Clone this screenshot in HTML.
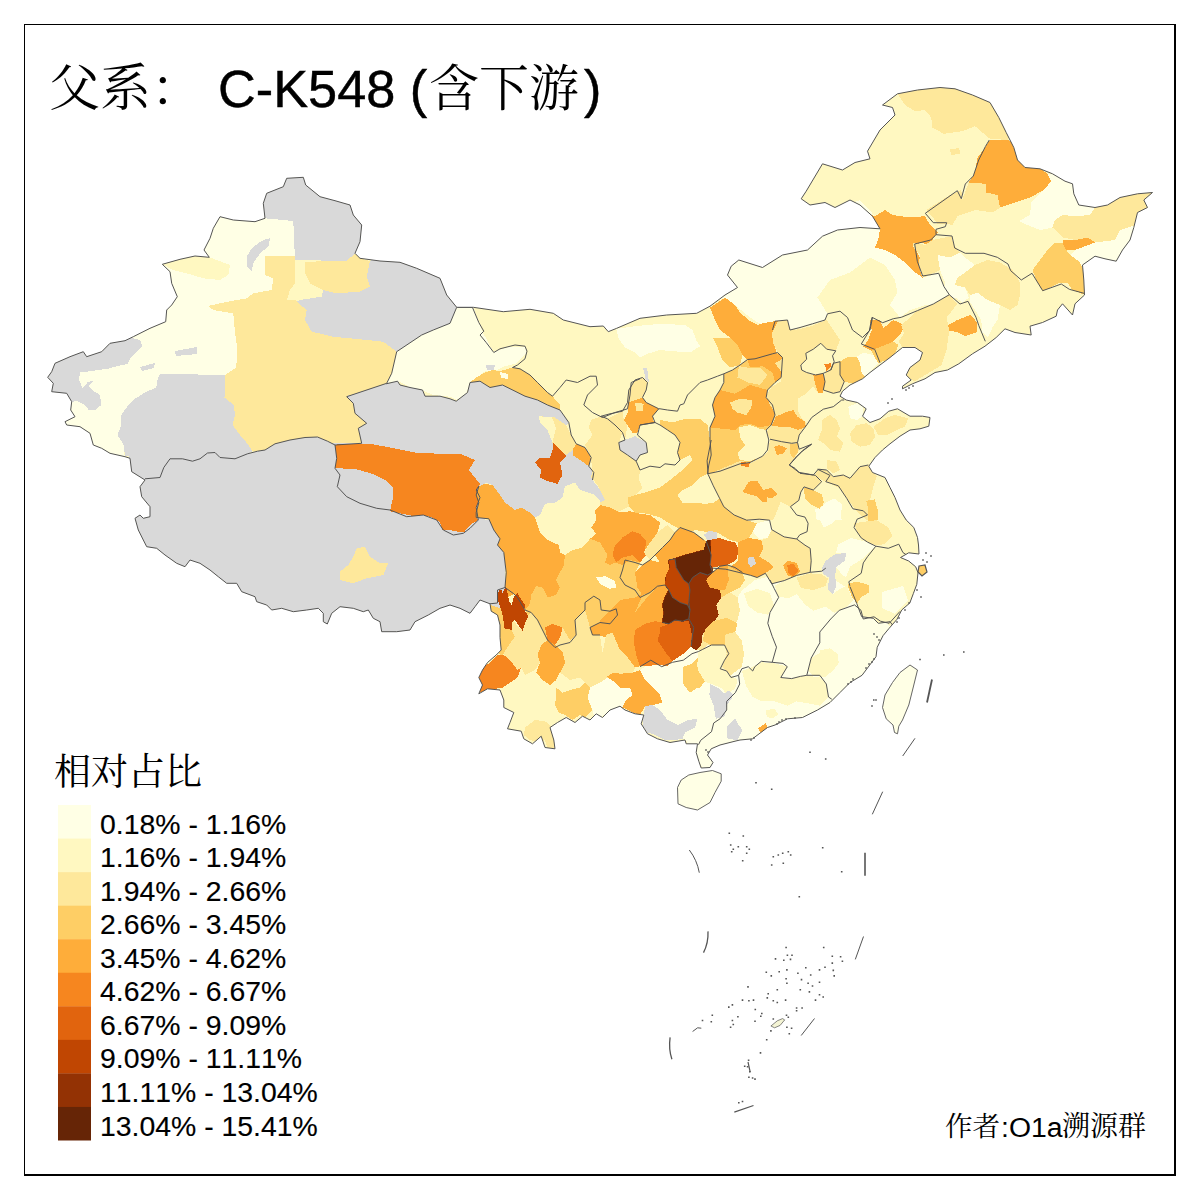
<!DOCTYPE html>
<html><head><meta charset="utf-8"><title>C-K548</title>
<style>
html,body{margin:0;padding:0;background:#fff;}
svg{display:block;}
.s{font-family:"Liberation Sans",sans-serif;fill:#000;font-kerning:none;}
.c{font-family:"Liberation Serif","Noto Serif CJK SC",serif;fill:#000;}
.t{stroke:#000;stroke-width:0.45px;}
.l{stroke:#000;stroke-width:0.15px;}
</style></head>
<body>
<svg width="1200" height="1200" viewBox="0 0 1200 1200">
<rect width="1200" height="1200" fill="#fff"/>
<defs><clipPath id="cn"><path d="M286.7 178.3 303.3 177.3 305.7 185 320 196.7 335 200.7 350 205 353.3 215 361.7 225 360 241.7 355 253.3 360 258.3 380 261 400 262.3 416.7 268.3 440 278.3 446.7 295 456.7 307.3 473.3 307.3 503.3 311.7 530 309.3 553.3 313.3 563.3 320 590 326.7 603.3 326 608.3 331.7 616.7 328.3 640 318.3 666.7 315 696.7 313.3 710 306.2 725 295 737.5 287.5 727.5 275 731.2 266.2 738.8 260 762.5 267.5 782.5 255 807.5 250 822.5 236.2 837.5 230 860 227.5 880 228.8 872.5 216.2 860 205 850 200 835 207.5 825 202.5 810 205 801.2 198.8 806.2 191.2 822.5 163.8 842.5 170 855 162.5 870 158.8 867.5 151.2 880 130 895 115 892.5 107.5 882.5 105 897.5 93.8 917.5 90 940 87.5 955 88.8 972.5 95 990 102.5 998.8 117.5 1006.2 132.5 1013.8 147.5 1017.5 160 1025 167.5 1040 168.8 1052.5 173.8 1065 181.2 1072.5 183.8 1073.8 193.8 1078.8 205 1095 207.5 1107.5 205 1120 197.5 1137.5 193.8 1152.5 192.5 1143.8 200 1147.5 207.5 1137.5 212.5 1133.8 227.5 1130 240 1122.5 250 1116.2 261.2 1105 258.8 1095 256.2 1082.5 265 1083.8 280 1084.5 295 1075 303.8 1072.5 315 1062.5 303.8 1057.5 310 1056.2 316.2 1042.5 322.5 1030 326.2 1031.2 335 1015 332.5 1005 328.8 996.2 337.5 985 346.2 972.5 353.8 958.8 363.8 947.5 370 935 372.5 925 378.8 912.5 383.8 902.5 388.8 902.5 386.2 911.2 380 906.2 375 910 367.5 920 360 922.5 352.5 915 347.5 902.5 347.5 890 357.5 880 365 870 372.5 862.5 378.8 850 385 842.5 391.2 840 396.2 846.2 400 857.5 402.5 866.2 408.8 862.5 416.2 870 422.5 880 418.8 888.8 411.2 897.5 408.8 910 416.2 922.5 416.2 930 417.5 928.8 426.2 920 428.8 910 430 900 436.2 890 443.8 882.5 450 875 457.5 868.8 466.2 872.5 472.5 885 477.5 890 487.5 895 497.5 900 510 906.2 520 913.8 527.5 917.5 537.5 918.5 545 919 554 908.7 552.8 900.5 557.5 908.7 561 915.7 566.8 918 572.7 916.8 584.3 913.3 593.7 909.8 603 901.7 610 897 619.3 888.8 628.7 883 635.7 877.2 647.3 876 656.7 869 666 862 675.3 850 682.5 840 692.5 830 702.5 817.5 710 802.5 717.5 787.5 718.8 775 725 767.5 727.5 752.5 738.8 740 740 735 741.2 720 745 711.2 748.8 707.5 755 713 762.5 710 767.5 701.2 768 698.8 761.2 696.2 752.5 697.5 743.8 686.2 743.8 685 740 670 742.5 657.5 738.8 647.5 733.8 641.2 723.8 643.8 715 635 713.8 625 710 620 706.2 610 710 602.5 717.5 596.2 713.8 590 720 582.5 716.2 575 722.5 566.2 717.5 557.5 722.5 550 727.5 553.8 740 555 748.8 545 747.5 541.2 736.2 532.5 743.8 523.8 738.8 521.2 731.2 507.5 728.8 510 722.5 513.8 712.5 503.8 707.5 503.8 700 500 690 487.5 688.8 478.8 693.8 482.5 685 478.8 677.5 482.5 670 487.5 662.5 496.2 655 501.2 650 500 637.5 500 625 497.5 615 491.2 611.2 490 603.8 480 600 475 606.7 470 613.3 460 608.3 450 605 440 608.3 428.3 615 415 621.7 410 630 396.7 631.7 381.7 631.7 380 621.7 373.3 618.3 368.3 610 363.3 611.7 353.3 608.3 340 606.7 331.7 613.3 327.3 624 323.3 621.7 323.3 613.3 318.3 608.3 306.7 610 293.3 611.7 281.7 608.3 271.7 610 266.7 605 256.7 601.7 255 596.7 241.7 591.7 236.7 583.3 226.7 583.3 218.3 576.7 210 570 200 563.3 190 560 185 566.7 176.7 563.3 165 555 156.7 548.3 146.7 546.7 143.3 540 138.3 530 135 518.3 140 515 143.3 518.3 150 516.7 150 506.7 141.7 496.7 140 486.7 145 480 131.7 471.7 130 458.3 125 456.7 110 453.3 101.7 448.3 93.3 445 90 433.3 80 426.7 66.7 425 65 421.7 75 416.7 70.7 410 71.7 401.7 66.7 393.3 51.7 391.7 53.3 383.3 47.7 377.3 51.7 371.7 55 363.3 70 356.7 83.3 351.7 86.7 356.7 101.7 351.7 110 343.3 125 340.7 133.3 336.7 150 328.3 165.7 321.7 166.7 310 171.7 305 177.3 296.7 171.7 283.3 170 271.7 162.3 264.3 180 259.3 195 256 209.3 257.3 204 250 210 238.3 213.3 228.3 220 216.7 233.3 220 255 221.7 265 218.3 263.3 203.3 266.7 193.3 283.3 186.7Z"/></clipPath></defs>
<path d="M286.7 178.3 303.3 177.3 305.7 185 320 196.7 335 200.7 350 205 353.3 215 361.7 225 360 241.7 355 253.3 360 258.3 380 261 400 262.3 416.7 268.3 440 278.3 446.7 295 456.7 307.3 473.3 307.3 503.3 311.7 530 309.3 553.3 313.3 563.3 320 590 326.7 603.3 326 608.3 331.7 616.7 328.3 640 318.3 666.7 315 696.7 313.3 710 306.2 725 295 737.5 287.5 727.5 275 731.2 266.2 738.8 260 762.5 267.5 782.5 255 807.5 250 822.5 236.2 837.5 230 860 227.5 880 228.8 872.5 216.2 860 205 850 200 835 207.5 825 202.5 810 205 801.2 198.8 806.2 191.2 822.5 163.8 842.5 170 855 162.5 870 158.8 867.5 151.2 880 130 895 115 892.5 107.5 882.5 105 897.5 93.8 917.5 90 940 87.5 955 88.8 972.5 95 990 102.5 998.8 117.5 1006.2 132.5 1013.8 147.5 1017.5 160 1025 167.5 1040 168.8 1052.5 173.8 1065 181.2 1072.5 183.8 1073.8 193.8 1078.8 205 1095 207.5 1107.5 205 1120 197.5 1137.5 193.8 1152.5 192.5 1143.8 200 1147.5 207.5 1137.5 212.5 1133.8 227.5 1130 240 1122.5 250 1116.2 261.2 1105 258.8 1095 256.2 1082.5 265 1083.8 280 1084.5 295 1075 303.8 1072.5 315 1062.5 303.8 1057.5 310 1056.2 316.2 1042.5 322.5 1030 326.2 1031.2 335 1015 332.5 1005 328.8 996.2 337.5 985 346.2 972.5 353.8 958.8 363.8 947.5 370 935 372.5 925 378.8 912.5 383.8 902.5 388.8 902.5 386.2 911.2 380 906.2 375 910 367.5 920 360 922.5 352.5 915 347.5 902.5 347.5 890 357.5 880 365 870 372.5 862.5 378.8 850 385 842.5 391.2 840 396.2 846.2 400 857.5 402.5 866.2 408.8 862.5 416.2 870 422.5 880 418.8 888.8 411.2 897.5 408.8 910 416.2 922.5 416.2 930 417.5 928.8 426.2 920 428.8 910 430 900 436.2 890 443.8 882.5 450 875 457.5 868.8 466.2 872.5 472.5 885 477.5 890 487.5 895 497.5 900 510 906.2 520 913.8 527.5 917.5 537.5 918.5 545 919 554 908.7 552.8 900.5 557.5 908.7 561 915.7 566.8 918 572.7 916.8 584.3 913.3 593.7 909.8 603 901.7 610 897 619.3 888.8 628.7 883 635.7 877.2 647.3 876 656.7 869 666 862 675.3 850 682.5 840 692.5 830 702.5 817.5 710 802.5 717.5 787.5 718.8 775 725 767.5 727.5 752.5 738.8 740 740 735 741.2 720 745 711.2 748.8 707.5 755 713 762.5 710 767.5 701.2 768 698.8 761.2 696.2 752.5 697.5 743.8 686.2 743.8 685 740 670 742.5 657.5 738.8 647.5 733.8 641.2 723.8 643.8 715 635 713.8 625 710 620 706.2 610 710 602.5 717.5 596.2 713.8 590 720 582.5 716.2 575 722.5 566.2 717.5 557.5 722.5 550 727.5 553.8 740 555 748.8 545 747.5 541.2 736.2 532.5 743.8 523.8 738.8 521.2 731.2 507.5 728.8 510 722.5 513.8 712.5 503.8 707.5 503.8 700 500 690 487.5 688.8 478.8 693.8 482.5 685 478.8 677.5 482.5 670 487.5 662.5 496.2 655 501.2 650 500 637.5 500 625 497.5 615 491.2 611.2 490 603.8 480 600 475 606.7 470 613.3 460 608.3 450 605 440 608.3 428.3 615 415 621.7 410 630 396.7 631.7 381.7 631.7 380 621.7 373.3 618.3 368.3 610 363.3 611.7 353.3 608.3 340 606.7 331.7 613.3 327.3 624 323.3 621.7 323.3 613.3 318.3 608.3 306.7 610 293.3 611.7 281.7 608.3 271.7 610 266.7 605 256.7 601.7 255 596.7 241.7 591.7 236.7 583.3 226.7 583.3 218.3 576.7 210 570 200 563.3 190 560 185 566.7 176.7 563.3 165 555 156.7 548.3 146.7 546.7 143.3 540 138.3 530 135 518.3 140 515 143.3 518.3 150 516.7 150 506.7 141.7 496.7 140 486.7 145 480 131.7 471.7 130 458.3 125 456.7 110 453.3 101.7 448.3 93.3 445 90 433.3 80 426.7 66.7 425 65 421.7 75 416.7 70.7 410 71.7 401.7 66.7 393.3 51.7 391.7 53.3 383.3 47.7 377.3 51.7 371.7 55 363.3 70 356.7 83.3 351.7 86.7 356.7 101.7 351.7 110 343.3 125 340.7 133.3 336.7 150 328.3 165.7 321.7 166.7 310 171.7 305 177.3 296.7 171.7 283.3 170 271.7 162.3 264.3 180 259.3 195 256 209.3 257.3 204 250 210 238.3 213.3 228.3 220 216.7 233.3 220 255 221.7 265 218.3 263.3 203.3 266.7 193.3 283.3 186.7Z" fill="#fff8c1"/>
<g clip-path="url(#cn)" shape-rendering="crispEdges">
<path d="M330 440 485 440 485 545 330 545Z" fill="#d9d9d9"/>
<path d="M265 218.3 293.3 220 295 256 265 256 265 275 273.3 278.3 271.7 290 253.3 293.3 246.7 298.3 233.3 300.7 220 303.3 208.3 306 213.3 310 233.3 313.3 235 332.5 237.5 350 236.2 367.5 225 375 160 373.8 157.5 380 156.2 387.5 145 392.5 135 398.8 127.5 406.2 121.2 415 121.2 425 117.5 435 123.8 445 125 462 40 462 40 200 265 200Z" fill="#ffffe5"/>
<path d="M162.3 264.3 180 259.3 195 256 209.3 257.3 230 265 228.3 275 220 280 203.3 278.3 186.7 273.3 173.3 270Z" fill="#fff8c1"/>
<path d="M255 170 375 170 375 250 355 253.3 346.7 261 295 260 293.3 221 265 218.3 255 200Z" fill="#d9d9d9"/>
<path d="M263.3 240 270 238.3 268.3 246.7 260 253.3 253.3 263.3 251.7 271.7 246.7 266.7 246.7 256.7 251.7 248.3 258.3 243.3Z" fill="#d9d9d9"/>
<path d="M130 337.5 140 340 142.5 346.2 136.2 352.5 130 358.8 127.5 363.8 117.5 366.2 107.5 368.8 90 371.2 80 372.5 78.8 380 82.5 387.5 87.5 382.5 93.8 380 88.8 386.2 93.8 391.2 100 395 101.2 405 95 410 88.8 410 85 405 77.5 401.2 68 402 40 400 40 335 100 330Z" fill="#d9d9d9"/>
<path d="M175 351 197 347 197 354 176 356Z" fill="#d9d9d9"/>
<path d="M140 367 155 363 154 368 142 371Z" fill="#d9d9d9"/>
<path d="M265 256 295 256 295 300 296.7 301.7 306.7 310 305 320 311.7 331.7 333.3 336.7 366.7 340 383.3 341.7 396.7 351.7 391.7 373.3 386.7 383.3 346.7 396.7 353.3 403.3 355 413.3 366.7 423.3 358.3 428.3 361.7 443.3 333.3 443.3 317.5 437 305 437.5 290 440 275 443.8 265 450 252.5 451.2 247.5 443.8 240 435 232.5 425 235 415 233.8 405 224.5 397.5 225 375 236.2 367.5 237.5 350 235 332.5 233.3 313.3 213.3 310 208.3 306 220 303.3 233.3 300.7 246.7 298.3 253.3 293.3 271.7 290 273.3 278.3 265 275Z" fill="#fee89b"/>
<path d="M295 261.7 305 261.7 305 273.3 310 283.3 323.3 290 321.7 296.7 300 300 286.7 300 290 290 295 283.3Z" fill="#fff8c1"/>
<path d="M305 261.7 346.7 261 355 253.3 360 258.3 370 261 366.7 276.7 370 286.7 360 291.7 336.7 293.3 323.3 290 310 283.3 305 273.3Z" fill="#fee89b"/>
<path d="M160 373.8 225 375 224.5 397.5 233.8 405 235 415 232.5 425 240 435 247.5 443.8 252.5 451.2 247.5 453.8 235 458.8 220 457.5 215 452.5 207.5 453 200 458.8 192.5 461.2 182.5 458.8 170 458.8 163.8 467.5 160 477.5 145 478.8 131.2 472.5 128.8 456.2 125 456.2 123.8 445 117.5 435 121.2 425 121.2 415 127.5 406.2 135 398.8 145 392.5 156.2 387.5 157.5 380Z" fill="#d9d9d9"/>
<path d="M296.7 301.7 300 300 321.7 296.7 323.3 290 336.7 293.3 360 291.7 370 286.7 366.7 276.7 370 261 380 255 460 255 456.7 307.3 450 323.3 433.3 330 421.7 335 396.7 351.7 383.3 341.7 366.7 340 333.3 336.7 311.7 331.7 305 320 306.7 310Z" fill="#d9d9d9"/>
<path d="M456.7 307.3 473.3 307.3 483.3 333.3 493.3 351.7 510 346.7 525 346.7 526.7 353.3 516.7 363.3 503.3 366.7 496.7 370 483.3 371.7 476.7 380 470 381.7 466.7 393.3 456.7 400 450 396.7 433.3 395 421.7 390 411.7 388.3 400 381.7 386.7 382.7 391.7 373.3 396.7 351.7 421.7 335 433.3 330 450 323.3Z" fill="#ffffe5"/>
<path d="M131.2 472.5 145 478.8 160 477.5 163.8 467.5 170 458.8 182.5 458.8 192.5 461.2 200 458.8 207.5 453 215 452.5 220 457.5 235 458.8 247.5 453.8 257.5 451.2 265 450 275 443.8 290 440 305 437.5 317.5 437 327.5 441.2 335 445 336.7 458.3 335 468.3 340 475 337.3 486.7 346.7 496.7 360 503.3 376.7 508.3 390 510 406.7 516.7 423.3 515 436.7 520 443.3 530 453.3 535 463.3 533.3 470 528.3 478.3 520 505 520 505 640 300 640 120 560 120 470Z" fill="#d9d9d9"/>
<path d="M356.7 548.3 365 546.7 370 556.7 380 563.3 388.3 563.3 383.3 575 366.7 578.3 353.3 583.3 340 580 340 571.7 348.3 565 353.3 556.7Z" fill="#fee89b"/>
<path d="M346.2 396.2 386.2 383.8 397.5 381.2 400 385 410 387.5 422.5 390 425 396.2 440 396.2 450 398.8 456.2 401.2 467.5 392.5 470 382.5 480 381.2 490 387.5 502.5 385 515 391.2 525 396.2 537.5 400 547.5 405 560 410 568.8 422.5 566.2 425 571.2 435 576.2 443.8 585 447.5 591.2 457.5 588.8 466.2 593.8 472.5 592.5 480 602.5 492.5 606.2 500 601.2 502.5 595 495 580 490 575 482.5 565 486.2 562.5 497.5 555 502.5 545 503.8 540 515 535 517.5 530 512.5 521.2 507.5 515 510 505 502.5 500 495 492.5 485 485 482.5 478.8 486.2 480 483.8 468.8 470 475 460 460 453.8 440 453.8 415 452.5 390 447.5 370 443.8 361.7 443.3 358.3 428.3 366.7 423.3 355 413.3 353.3 403.3Z" fill="#d9d9d9"/>
<path d="M335 468.3 350 468.3 366.7 471.7 383.3 478.3 393.3 485 393.3 496.7 390 510 376.7 508.3 360 503.3 346.7 496.7 337.3 486.7 340 475Z" fill="#d9d9d9"/>
<path d="M335 445 340 443.8 370 443.8 390 447.5 415 452.5 440 453.8 460 453.8 475 460 468.8 470 480 483.8 476.2 490 480 497.5 476.2 507.5 476.2 517.5 478.3 520 470 525 463.8 532.5 455 531.2 450 530 442.5 530 440 522.5 432.5 517.5 423.3 515 415 516.2 402.5 513.8 390 511.2 392.5 500 392.5 487.5 385 480 372.5 473.8 355 468.8 335 468.3 336.7 458.3Z" fill="#f6861f"/>
<path d="M476.2 377.5 485 372.5 492.5 370 500 371.2 512.5 367.5 520 368.8 530 375 537.5 382.5 547.5 392.5 552.5 396.2 560 405 560 410 547.5 405 537.5 400 525 396.2 515 391.2 502.5 385 490 387.5 480 381.2 470 382.5Z" fill="#fece65"/>
<path d="M486 365 495 365 494 370 487 370Z" fill="#d9d9d9"/>
<path d="M500 372 508 374 508 379 501 378Z" fill="#ffffe5"/>
<path d="M538.8 416.2 555 417.5 566.2 425 571.2 435 576.2 443.8 572.5 450 566.2 455 560 450 552.5 442.5 547.5 430 540 422.5Z" fill="#fee89b"/>
<path d="M538.8 416.2 552 417.5 556 428 552.5 442.5 547.5 430 540 422.5Z" fill="#fff8c1"/>
<path d="M552.5 442.5 560 450 566.2 456.2 560 462.5 562.5 475 557.5 483.8 547.5 481.2 540 477.5 541.2 470 535 462.5 540 457.5 550 457.5 552.5 450Z" fill="#e1640e"/>
<path d="M576.2 443.8 585 447.5 591.2 457.5 588.8 466.2 580 460 572.5 455 572.5 450Z" fill="#fead3a"/>
<path d="M616.2 328.8 635 326.2 660 323.8 685 325 692.5 330 696.2 340 700 346.2 690 352.5 672.5 351.2 660 350 647.5 353.8 640 357.5 635 352.5 625 347.5 618.8 338.8Z" fill="#ffffe5"/>
<path d="M591.2 420 601.2 416.2 607.5 418.8 615 425 622.5 432.5 618.8 442.5 620 450 627.5 455 636.2 461.2 640 470 638.8 480 642.5 487.5 635 495 627.5 497.5 630 506.2 620 511.2 610 513.8 601.2 510 600 502.5 605 500 597.5 485 591.2 477.5 592.5 467.5 590 455 585 445 592.5 435 588.8 427.5Z" fill="#fee89b"/>
<path d="M660 420 672.5 422.5 685 418.8 700 418.8 707.5 425 710 440 711.2 455 708.8 465 707.5 473.8 700 477.5 692.5 485 682.5 490 677.5 495 682.5 502.5 692.5 502.5 705 503.8 720 502.5 722.5 510 735 517.5 732.5 525 720 530 710 532.5 695 530 690 532.5 677.5 527.5 670 523.8 660 517.5 647.5 513.8 635 512.5 628.8 506.2 627.5 497.5 635 495 645 492.5 660 487.5 670 480 682.5 470 692.5 460 690 455 680 460 677.5 452.5 680 442.5 675 435 667.5 430 660 425Z" fill="#fece65"/>
<path d="M635 380 642.5 377.5 647.5 382.5 646.2 390 642.5 397.5 627.5 402.5 628.8 390Z" fill="#fee89b"/>
<path d="M627.5 402.5 642.5 397.5 646.2 402.5 658.8 408.8 652.5 416.2 653.8 422.5 640 425 637.5 432.5 632.5 432.5 627.5 425 623.8 420 627.5 412.5Z" fill="#fead3a"/>
<path d="M635 402.5 643.8 403.8 642.5 411.2 636.2 411.2Z" fill="#fee89b"/>
<path d="M607.5 418.8 622.5 411.2 623.8 420 627.5 425 625 440 622.5 432.5 615 425Z" fill="#fee89b"/>
<path d="M625 440 635 436.2 646.2 442.5 647.5 452.5 640 455 636.2 461.2 627.5 455 620 450 618.8 442.5Z" fill="#d9d9d9"/>
<path d="M643.2 368 647 367.5 649 382.5 645.5 378.8Z" fill="#d9d9d9"/>
<path d="M712.5 337.5 730 337.5 737.5 345 742.5 355 740 365 730 367.5 722.5 360 717.5 347.5Z" fill="#fece65"/>
<path d="M723.8 373.8 732.5 370 740 365 747.5 359.5 755 358.8 772.5 353.8 777.5 352.5 782.5 357.5 781.2 377.5 775 382.5 767.5 390 766.2 397.5 772.5 405 775 415 771.2 425 766.2 430 768.8 440 767.5 450 762.5 456.2 750 462.5 740 463.8 730 467.5 720 471.2 707.5 473.8 708.8 465 711.2 455 710 440 710 427.5 715 416.2 712.5 405 715 397.5 720 390 723.8 382.5Z" fill="#fece65"/>
<path d="M738.8 366.2 747.5 367.5 760 367.5 767.5 375 760 385 747.5 382.5 737.5 377.5Z" fill="#fee89b"/>
<path d="M710 307.5 725 297.5 732.5 301.2 740 312.5 750 321.2 757.5 325 770 321.2 780 320 787.5 318.8 780 326.2 772.5 333.8 776.2 352.5 782.5 357.5 781.2 377.5 775 382.5 772.5 372.5 762.5 366.2 750 367.5 747.5 360 742.5 355 737.5 345 730 337.5 720 330 715 320Z" fill="#fead3a"/>
<path d="M720 390 735 393.8 750 385 767.5 390 766.2 397.5 772.5 405 775 415 771.2 425 760 427.5 750 423.8 740 425 735 430 722.5 428.8 710 427.5 715 416.2 712.5 405 715 397.5Z" fill="#fead3a"/>
<path d="M730 402.5 740 398.8 752.5 400 751.2 407.5 746.2 415 737.5 412.5 732.5 408.8Z" fill="#fee89b"/>
<path d="M738.8 427.5 750 425 760 428.8 766.2 430 768.8 440 767.5 450 762.5 456.2 750 461.2 740 460 737.5 452.5 745 445 740 437.5Z" fill="#fff8c1"/>
<path d="M740 462.5 750 462 748.8 467.5 741.2 467Z" fill="#f6861f"/>
<path d="M647.5 665 653.8 660 660 665 667.5 666.2 672.5 661.2 677.5 657.5 685 652.5 691.2 646.2 696.2 650 702.5 650 707.5 645 717.5 642.5 725 640 732.5 630 737.5 620 740 610 737.5 597.5 742.5 590 755 580 775 575 795 570 815 575 835 580 850 590 865 600 885 620 900 640 900 705 810 780 710 780 685 738.8 675 740 665 740 655 735 647.5 732.5 642.5 725 643.8 715 645 706.2 652.5 705 662.5 702.5 660 695 652.5 687.5 645 680 640 670Z" fill="#ffffe5"/>
<path d="M478.8 486.2 485 483.8 492.5 485 500 495 505 502.5 515 510 521.2 507.5 530 512.5 535 517.5 537.5 525 540 532.5 547.5 540 558.8 545 560 552.5 565 555 563.8 565 560 572.5 556.2 580 560 587.5 556.2 595 547.5 597.5 542.5 587.5 536.2 586.2 531.2 595 530 603.8 525 610 517.5 597.5 513.8 593.8 507.5 597.5 505 587.5 506.2 572.5 503.8 552.5 497.5 545 500 538.8 493.8 530 488.8 518.8 476.2 517.5 476.2 512.5 478.8 502.5 476.2 495Z" fill="#fead3a"/>
<path d="M565 555 572.5 550 582.5 547.5 590 538.8 600 542.5 607.5 555 605 562.5 610 565 615 562.5 622.5 565 630 560 640 562.5 635 572.5 637.5 587.5 642.5 595 635 612.5 625 605 620 610 625 617.5 620 620 610 623.8 600 622.5 590 627.5 585 610 575 620 576.2 635 570 640 562.5 627.5 552.5 623.8 545 627.5 547.5 640 542.5 630 537.5 620 531.2 612.5 527.5 616.2 525 610 530 603.8 531.2 595 536.2 586.2 542.5 587.5 547.5 597.5 556.2 595 560 587.5 556.2 580 560 572.5 563.8 565Z" fill="#fece65"/>
<path d="M600 620 620 600 635 597.5 660 585 667.5 590 663.8 623.8 645 624.2 635 630 640 666.2 627.5 658 615 640 600 635.5Z" fill="#fead3a"/>
<path d="M635 630 655 621.2 668.8 623.8 688.8 620 693.8 627.5 691.2 646.2 672.5 661.2 660 665 640 666.2Z" fill="#f6861f"/>
<path d="M596.2 577.5 605 576.2 615 581.2 616.2 587.5 610 588.8 600 583.8Z" fill="#ffffe5"/>
<path d="M595 510 600 505 610 507.5 620 512.5 630 511.2 640 513.8 650 515 660 522.5 657.5 532.5 650 542.5 645 550 646.2 555 640 562.5 630 560 622.5 565 615 562.5 610 565 605 562.5 607.5 555 600 542.5 590 538.8 596.2 533.8 591.2 527.5 596.2 520Z" fill="#fead3a"/>
<path d="M615 545 622.5 537.5 632.5 531.2 640 533.8 646.2 541.2 645 550 646.2 555 640 562.5 632.5 555 622.5 557.5 616.2 562.5 612.5 555Z" fill="#f6861f"/>
<path d="M657.5 532.5 667.5 525 675 532.5 670 540 662.5 547.5 655 555 650 560 643.8 552.5 650 542.5Z" fill="#fee89b"/>
<path d="M675 532.5 680 527.5 693.8 532.5 703.8 540 706.2 541.2 703.8 550 695 552.5 685 555 675 558.8 668.8 560 660 562.5 655 555 662.5 547.5 670 540Z" fill="#fead3a"/>
<path d="M635 572.5 642.5 565 650 560 660 562.5 668.8 560 670 567.5 666.2 575 665 585 657.5 586.2 650 592.5 642.5 595 637.5 587.5Z" fill="#fead3a"/>
<path d="M625 605 635 612.5 645 600 657.5 586.2 665 585 668.8 590 665 597.5 662.5 605 663.8 612.5 662.5 622.5 655 621.2 645 623.8 635 616.2 625 617.5 620 610Z" fill="#fead3a"/>
<path d="M642.5 595 650 592.5 657.5 586.2 645 600 635 612.5Z" fill="#fece65"/>
<path d="M590 627.5 600 622.5 610 623.8 620 620 635 616.2 645 623.8 635 630 633.8 642.5 636.2 655 640 666.2 635 667.5 627.5 657.5 620 650 615 640 610 632.5 600 635 592.5 635Z" fill="#fead3a"/>
<path d="M606.2 635 612.5 632.5 620 650 627.5 657.5 635 667.5 632.5 672.5 620 673.8 613.8 672.5 607.5 677.5 605 667.5 607.5 655 602.5 652.5Z" fill="#fee89b"/>
<path d="M605 677.5 613.8 672.5 620 673.8 632.5 672.5 640 670 645 680 652.5 687.5 660 695 662.5 702.5 652.5 705 645 706.2 640 715 632.5 712.5 622.5 707.5 626.2 700 632.5 695 630 687.5 620 687.5 615 682.5Z" fill="#fead3a"/>
<path d="M635 630 645 623.8 655 621.2 660 627.5 660 632.5 657.5 640 662.5 647.5 667.5 655 672.5 661.2 667.5 666.2 660 665 653.8 660 647.5 665 640 666.2 636.2 655 633.8 642.5Z" fill="#f6861f"/>
<path d="M660 627.5 668.8 623.8 675 620 682.5 621.2 688.8 620 693.8 627.5 692.5 635 691.2 646.2 685 652.5 677.5 657.5 672.5 661.2 667.5 655 662.5 647.5 657.5 640 660 632.5Z" fill="#e1640e"/>
<path d="M667.5 560 675 558 685 554.5 703.8 549.5 706.2 540.8 710.8 539.5 712.5 567.5 720 590 721.8 597.5 716.8 605 719.2 615 714.2 622.5 708 627.5 703 635 701.8 645 696.2 650.5 690.8 646.8 692 635 688.8 620.5 682.5 621.8 675 620.5 668.8 624.2 662 623 663.2 612.5 662 605 664.5 597.5 668.2 590 664.5 585 665.8 575 669.5 567.5Z" fill="#933204"/>
<path d="M692.5 577.5 706.2 580 712.5 572.5 720 566.2 727.5 565 728.8 580 725 590 720 590 710 587.5Z" fill="#fead3a"/>
<path d="M727.5 565 735 567.5 742.5 572.5 745 580 740 587.5 730 592.5 721.2 597.5 720 590 725 590 728.8 580Z" fill="#fece65"/>
<path d="M716.2 605 721.2 597.5 730 592.5 737.5 597.5 740 610 737.5 620 732.5 630 725 640 717.5 642.5 707.5 645 702.5 650 696.2 650 701.2 645 702.5 635 707.5 627.5 713.8 622.5 718.8 615Z" fill="#fee89b"/>
<path d="M711.2 540 717.5 537.5 725 540 735 542.5 738.8 550 736.2 560 727.5 565 720 566.2 712.5 567.5 710 565 711.2 555Z" fill="#e1640e"/>
<path d="M668.8 560 675 558.8 676.2 567.5 680 573.8 683.8 580 688.8 583.8 690 590 688.8 602.5 687.5 605 680 602.5 672.5 597.5 668.8 590 665 585 666.2 575 670 567.5Z" fill="#c04602"/>
<path d="M692.5 577.5 700 573.8 706.2 580 710 587.5 720 590 721.2 597.5 716.2 605 718.8 615 713.8 622.5 707.5 627.5 702.5 635 701.2 645 696.2 650 691.2 646.2 692.5 635 693.8 627.5 688.8 620 690 610 688.8 602.5 690 590 688.8 583.8Z" fill="#933204"/>
<path d="M675 558.8 685 555 695 552.5 703.8 550 706.2 541.2 710 540 711.2 555 710 565 712.5 572.5 707.5 575 700 572.5 692.5 577.5 688.8 583.8 683.8 580 680 573.8 676.2 567.5Z" fill="#662506"/>
<path d="M668.8 590 672.5 597.5 680 602.5 687.5 605 690 610 688.8 618.8 682.5 621.2 675 620 668.8 623.8 662.5 622.5 663.8 612.5 662.5 605 665 597.5Z" fill="#662506"/>
<path d="M695 660 703.8 652.5 710 660 707.5 670 706.2 680 700 687.5 690 690 683.8 680 687.5 670Z" fill="#fece65"/>
<path d="M645 706.2 652.5 705 660 710 667.5 720 677.5 725 687.5 720 697.5 718.8 695 727.5 685 732.5 682.5 738.8 675 740 665 740 655 735 647.5 732.5 642.5 725 643.8 715Z" fill="#d9d9d9"/>
<path d="M710 683.8 717.5 687.5 725 695 730 690 732.5 697.5 725 705 722.5 715 717.5 717.5 715 705 710 697.5Z" fill="#d9d9d9"/>
<path d="M727.5 727.5 735 720 742.5 730 737.5 737.5 728.8 737.5Z" fill="#d9d9d9"/>
<path d="M575 620 585 610 590 627.5 592.5 635 600 635 602.5 652.5 607.5 655 605 667.5 607.5 677.5 600 682.5 590 687.5 585 682.5 580 677.5 570 680 560 672.5 565 662.5 562.5 652.5 555 645 560 637.5 562.5 627.5 570 640 576.2 635Z" fill="#fee89b"/>
<path d="M500 630 510 630 512.5 620 521.2 630 527.5 616.2 531.2 612.5 537.5 620 542.5 630 547.5 640 541.2 645 537.5 655 540 662.5 535 670 525 675 521.2 667.5 517.5 670 510 660 503.8 655 500 645Z" fill="#fee89b"/>
<path d="M490 605 497.5 607.5 500.8 608.3 503.3 618.3 504.2 628.3 511.7 630 515 636.7 510 643.3 505.8 650 501.7 656.7 499.2 653.3 500 643.3 498.3 631.7 496.7 620 491.7 613.3Z" fill="#fece65"/>
<path d="M497.5 595.8 499.2 590 501.7 590 502.5 593.3 504.2 590 505.8 585.8 507.5 593.3 509.2 601.7 511.7 605 514.2 595.8 517.5 593.3 521.7 600 525 605 524.2 610 528.3 615.8 525 623.3 522.5 630.8 518.3 625 515 620 511.7 623.3 511.7 630 504.2 628.3 503.3 618.3 500.8 608.3 498.3 601.7Z" fill="#c04602"/>
<path d="M478.8 677.5 482.5 667.5 490 662.5 497.5 655 503.8 655 510 660 517.5 670 521.2 667.5 517.5 677.5 510 682.5 502.5 687.5 495 688.8 485 690 480 692.5Z" fill="#f6861f"/>
<path d="M541.2 645 547.5 640 555 645 562.5 652.5 565 662.5 560 672.5 556.2 680 550 685 542.5 680 536.2 672.5 540 662.5 537.5 655Z" fill="#fead3a"/>
<path d="M545 627.5 552.5 623.8 562.5 627.5 560 637.5 555 645 547.5 640Z" fill="#f6861f"/>
<path d="M556.2 687.5 562.5 692.5 570 690 580 687.5 585 682.5 590 687.5 587.5 697.5 592.5 710 585 717.5 580 715 572.5 720 565 715 558.8 712.5 555 705 556.2 695Z" fill="#fece65"/>
<path d="M590 687.5 600 682.5 607.5 677.5 615 682.5 620 687.5 630 687.5 632.5 695 626.2 700 622.5 707.5 615 710 607.5 712.5 600 717.5 595 720 592.5 710 587.5 697.5Z" fill="#ffffe5"/>
<path d="M525 727.5 535 720 545 721.2 552.5 727.5 555 740 555 747.5 547.5 748.8 545 740 537.5 742.5 530 740 523.8 735Z" fill="#fee89b"/>
<path d="M778.3 320 790 320 795 330 810 326.7 826.7 320 833.3 330 840 340 835.8 350.8 826.7 349.2 820.8 343.3 813.3 349.2 805.8 353.3 806.7 359.2 800.8 365 801.7 370 806.7 372.5 813.3 375 815 383.3 818.3 393.3 813.3 386.7 806.7 393.3 798.3 398.3 797.5 410 801.7 418.3 806.7 423.3 799.2 435 797.5 442.5 791.7 443.3 781.7 441.7 770 439.2 766.7 431.7 770.8 426.7 775 413.3 769.2 403.3 766.7 395 771.7 386.7 780.8 381.7 782.5 373.3 775 363.3 783.3 358.3 778.3 353.3 773.3 343.3 771.7 333.3Z" fill="#fee89b"/>
<path d="M775.8 416.7 785 412.5 793.3 410 797.5 416.7 805 421.7 805.8 426.7 798.3 430 788.3 426.7 780 426.7 771.7 425.8Z" fill="#fead3a"/>
<path d="M824.2 364.2 830.8 363.3 830.8 370 826.7 371.7 825.8 367.5Z" fill="#f6861f"/>
<path d="M813.3 375 823.3 373.3 825 381.7 822.5 393.3 818.3 393.3 815 383.3Z" fill="#fead3a"/>
<path d="M825 373.3 833.3 363.3 840 361.7 840 375 844.2 381.7 840 391.7 833.3 393.3 823.3 390 825 381.7Z" fill="#fee89b"/>
<path d="M840 361.7 846.7 357.5 856.7 356.7 860 363.3 861.7 373.3 866.7 377.5 855 384.2 844.2 381.7 840 375Z" fill="#fece65"/>
<path d="M856.7 356.7 863.3 352.5 873.3 355 878.3 363.3 873.3 368.3 866.7 377.5 861.7 373.3 860 363.3Z" fill="#ffffe5"/>
<path d="M863.3 346.7 868.3 340 871.7 330 870 320 880 320 883.3 328.3 893.3 320 905 325 900 335 893.3 341.7 885 345 876.7 348.3 871.7 350.8Z" fill="#fead3a"/>
<path d="M871.7 350.8 876.7 348.3 885 345 893.3 341.7 898.3 345 895 353.3 890 358.3 878.3 363.3 873.3 355Z" fill="#fece65"/>
<path d="M821.7 420 830 415 836.7 420 840 428.3 836.7 436.7 843.3 443.3 840 451.7 830 450 823.3 443.3 818.3 440 821.7 430Z" fill="#fee89b"/>
<path d="M850 433.3 856.7 425 866.7 423.3 873.3 428.3 875 436.7 870 445 860 446.7 851.7 441.7Z" fill="#fee89b"/>
<path d="M873.3 426.7 885 418.3 895 415 908.3 418.3 905 426.7 896.7 430 886.7 435 878.3 435Z" fill="#fee89b"/>
<path d="M848.3 406.7 856.7 403.3 863.3 406.7 862.5 416.7 856.7 420 850 418.3Z" fill="#ffffe5"/>
<path d="M826.7 460 836.7 461.7 840 470 833.3 473.3 826.7 468.3Z" fill="#fee89b"/>
<path d="M770 439.2 781.7 441.7 791.7 443.3 797.5 442.5 799.2 449.2 795 458.3 789.2 465 795 468.3 800 473.3 790 480 783.3 486.7 780 503.3 773.3 520 740 520 740 466.7 750 463.3 760 458.3 768.3 451.7Z" fill="#fee89b"/>
<path d="M774.2 446.7 779.2 445 786.7 448.3 783.3 453.3 776.7 455Z" fill="#fead3a"/>
<path d="M790 444.2 797.5 443.3 798.3 451.7 793.3 458.3 790 453.3Z" fill="#fece65"/>
<path d="M746.7 483.3 753.3 480 761.7 485 763.3 495 765 501.7 758.3 500 750 495 745 490Z" fill="#fead3a"/>
<path d="M818.3 469.2 826.7 470 833.3 476.7 843.3 475 850 478.3 860 466.7 868.3 465 871.7 471.7 876.7 476.7 873.3 486.7 870 500 876.7 511.7 878.3 520 866.7 520 856.7 511.7 848.3 500 840 488.3 830 483.3 821.7 480 815 475Z" fill="#fee89b"/>
<path d="M868.3 500 875 501.7 878.3 511.7 878.3 520 870 520 867.5 510Z" fill="#fece65"/>
<path d="M804.2 488.3 810 486.7 815 493.3 821.7 496.7 823.3 505 818.3 508.3 811.7 505 806.7 498.3Z" fill="#fece65"/>
<path d="M815 509.2 826.7 506.7 840 511.7 841.7 520 816.7 520Z" fill="#ffffe5"/>
<path d="M715 302 725 297.5 735 305 750 317.5 760 323.8 775 321.2 787.5 320 790 330 800 327.5 812.5 323.8 825 320 827.5 313.8 817.5 297.5 830 280 850 272.5 870 257.5 885 265 895 280 897.5 292.5 890 305 900 317.5 910 310 925 305 937.5 306.2 947.5 297.5 949.3 294.7 944 285.3 938.7 273.3 923.8 277.5 915 272.5 905 262.5 895 255 885 250 875 247.5 878.8 237.5 880 228.8 875 216.2 860 200 720 250Z" fill="#ffffe5"/>
<path d="M875 216.2 885 210 892.5 215 910 217.5 925 216.2 930 225 937.5 232.5 932.5 240 930 247.5 922.5 242.5 912.5 245 917.5 252.5 921.2 260 920 270 922.5 277.5 915 272.5 905 262.5 895 255 885 250 875 247.5 878.8 237.5 880 228.8 870 214Z" fill="#fead3a"/>
<path d="M912.5 242.5 925 245 932.5 240 951.2 236.2 953.8 245 960 252.5 950 257.5 940 270 923.8 277.5 918.8 265 920 255 915 250Z" fill="#fee89b"/>
<path d="M905 105 897.5 93.8 900 85 1000 85 1010 132.5 1008 140 990 138.8 975 126.2 962.5 131.2 943.8 133.8 932.5 127.5 931.2 117.5 925 110 915 111.2Z" fill="#fee89b"/>
<path d="M990 140 1007.5 140 1020 145 1030 160 1030 167.5 1040 168.8 1047.5 173.8 1051.2 181.2 1043.8 190 1030 197.5 1015 202.5 1000 207.5 997.5 195 986.2 192.5 986.2 183.8 968.8 182.5 975 172.5 977.5 157.5 985 147.5Z" fill="#fead3a"/>
<path d="M926.2 210 950 195 961.2 190 962.5 198.8 968.8 182.5 986.2 183.8 986.2 192.5 997.5 195 1000 207.5 992.5 212.5 975 210 957.5 216.2 952.5 225 947.5 223.8 937.5 223.8 933.8 218.8Z" fill="#fee89b"/>
<path d="M1047.5 173.8 1065 175 1080 180 1080 205 1095 207.5 1090 215 1075 216.2 1062.5 215 1055 220 1052.5 227.5 1040 230 1027.5 225 1018.8 221.2 1030 215 1031.2 202.5 1043.8 190 1051.2 181.2Z" fill="#ffffe5"/>
<path d="M1095 207.5 1107.5 200 1120 190 1160 185 1160 210 1137.5 212.5 1135 225 1120 230 1115 240 1095 242.5 1087.5 238.8 1075 240 1062.5 237.5 1052.5 227.5 1055 220 1062.5 215 1075 216.2 1090 215Z" fill="#fee89b"/>
<path d="M1070 255 1075 250 1095 242.5 1115 240 1120 230 1135 225 1140 235 1130 255 1120 268 1095 260 1082.5 268 1078.8 261.2Z" fill="#ffffe5"/>
<path d="M1062.5 240 1075 240 1087.5 237.5 1095 242.5 1075 250 1066.2 250 1062.5 245Z" fill="#fead3a"/>
<path d="M1032.5 270 1040 260 1047.5 250 1055 242.5 1062.5 243 1066.2 250 1070 255 1078.8 261.2 1083.8 270 1090 297 1072.5 290 1067.5 282.5 1060 282.5 1050 287.5 1042.5 291.2 1036.2 280Z" fill="#fece65"/>
<path d="M965 272.5 975 265 987.5 260 1000 262.5 1012.5 270 1020 282.5 1020 295 1017.5 305 1010 310 1000 305 987.5 300 977.5 292.5 970 295 965 287.5 955 285 957.5 277.5Z" fill="#fee89b"/>
<path d="M937.5 255 950 257.5 960 252.5 965 257.5 975 265 965 272.5 957.5 277.5 955 285 965 287.5 968.8 297.5 962.5 302.5 955 297.5 948.8 300 943.8 295 945 282.5 940 270Z" fill="#ffffe5"/>
<path d="M970 295 977.5 292.5 987.5 300 1000 305 997.5 320 992.5 327.5 987.5 337.5 982.5 332.5 981.2 320 975 310 970 302Z" fill="#ffffe5"/>
<path d="M901.3 325.3 917.3 310.7 933.3 304 949.3 294.7 957.3 304 946.7 317.3 949.3 330.7 946.7 349.3 941.3 365.3 928 373.3 914.7 381.3 906.7 376 912 360 920 352 914.7 346.7 904 349.3 898.7 341.3 904 333.3Z" fill="#fee89b"/>
<path d="M948 325.3 957.3 320 970.7 314.7 977.3 322.7 977.3 332 965.3 336 957.3 332 949.3 330.7Z" fill="#fead3a"/>
<path d="M708.1 474.4 740.4 460.8 750.8 462.9 767.5 458.8 789.4 465 798.8 472.3 815.4 475.4 821.7 481.7 813.3 490 804 486.9 800.8 492.1 798.8 500.4 790.4 506.7 777.9 500.4 769.6 502.5 759.2 510.8 746.7 520.2 734.2 515 723.8 506.7 719.6 498.3 713.3 485.8Z" fill="#fee89b"/>
<path d="M748.8 481.7 757.1 480.6 763.3 490 771.7 487.9 777.9 494.2 771.7 498.3 766.5 497.3 766.5 502.5 762.3 501.5 757.1 496.2 748.8 494.2 742.5 492.1Z" fill="#fead3a"/>
<path d="M711.2 440 738.3 440 736.2 452.5 740.4 460.8 708.1 474.4 707.1 460.8Z" fill="#fece65"/>
<path d="M740.4 461.9 749.8 462.9 748.8 467.1 741.5 466Z" fill="#f6861f"/>
<path d="M694.6 502.5 705 508.8 719.6 498.3 723.8 506.7 734.2 515 746.7 520.2 757.1 523.3 752.9 531.7 748.8 537.9 738.3 542.1 730 540 717.5 532.7 709.2 530.6 700.8 529.6 694.6 519.2Z" fill="#fece65"/>
<path d="M738.3 542.1 748.8 537.9 761.2 540 763.3 548.3 759.2 556.7 769.6 562.9 773.8 567.1 765.4 573.3 757.1 577.5 750.8 575.4 742.5 573.3 730 567.1 738.3 560.8 738.3 550.4Z" fill="#fead3a"/>
<path d="M752.9 531.7 757.1 523.3 769.6 520.2 771.7 529.6 767.5 537.9 759.2 539Z" fill="#ffffe5"/>
<path d="M704 534.8 709.2 530.6 717.5 532.7 716.5 539 707.1 540Z" fill="#d9d9d9"/>
<path d="M748.3 557.7 754 556.7 756 564 750.8 567.1 747.7 562.9Z" fill="#d9d9d9"/>
<path d="M767.5 537.9 771.7 529.6 784.2 536.9 796.7 539 805 545.2 810.2 548.3 811.2 560.8 810.2 572.3 796.7 575.4 784.2 580.6 771.7 583.8 765.4 573.3 773.8 567.1 769.6 562.9 759.2 556.7 763.3 548.3 761.2 540Z" fill="#fee89b"/>
<path d="M783.1 565 788.3 560.8 796.7 562.9 799.8 571.2 794.6 577.5 787.3 575.4Z" fill="#fead3a"/>
<path d="M787.3 565 793.5 564 798.8 571.2 793.5 576.5 788.3 573.3Z" fill="#f6861f"/>
<path d="M804 489 813.3 490 821.7 494.2 823.8 502.5 819.6 508.8 811.2 504.6 805 498.3Z" fill="#fece65"/>
<path d="M817.5 510.8 825.8 502.5 834.2 498.3 842.5 504.6 840.4 515 832.1 523.3 823.8 527.5 819.6 519.2Z" fill="#ffffe5"/>
<path d="M838.3 544.2 850.8 537.9 867.5 542.1 875.8 546.2 871.7 556.7 863.3 562.9 861.2 573.3 850.8 579.6 842.5 575.4 836.2 567.1 844.6 560.8 846.7 552.5 836.2 552.5Z" fill="#ffffe5"/>
<path d="M825.8 560.8 834.2 554.6 846.7 552.5 844.6 560.8 836.2 567.1 835.2 575.4 836.2 585.8 833.1 594.2 827.9 590 829 577.5 823.8 575.4 821.7 569.2Z" fill="#d9d9d9"/>
<path d="M866.5 501.5 874.8 499.4 877.9 510.8 876.9 520.2 867.5 521.2 868.5 510.8Z" fill="#fece65"/>
<path d="M854 523.3 867.5 521.2 876.9 520.2 888.3 527.5 892.5 535.8 884.2 544.2 875.8 545.2 867.5 542.1 861.2 537.9 857.1 531.7Z" fill="#fee89b"/>
<path d="M847.7 583.8 857.1 581.7 868.5 584.8 869.6 592.1 861.2 597.3 857.1 603.5 852.9 598.3 848.8 590Z" fill="#fece65"/>
<path d="M774.8 585.8 784.2 580.6 796.7 575.4 810.2 572.3 821.7 573.3 829 577.5 827.9 590 833.1 594.2 838.3 590 846.7 585.8 852.9 600.4 846.7 606.7 834.2 612.9 825.8 606.7 813.3 610.8 805 604.6 796.7 594.2 788.3 598.3 777.9 596.2Z" fill="#fff8c1"/>
<path d="M819.6 650.4 830 648.3 838.3 654.6 836.2 667.1 825.8 671.2 819.6 662.9Z" fill="#fff8c1"/>
<path d="M741.8 671 752.7 666.7 761.3 662.3 774.3 663.4 787.3 666.7 780.8 677.5 791.7 678.6 804.7 675.3 819.8 677.5 826.3 684 828.5 697 819.8 705.7 809 703.5 796 701.3 787.3 705.7 774.3 701.3 761.3 701.3 752.7 697 746.2 686.2Z" fill="#fff8c1"/>
<path d="M811.2 658 822 651.5 835 654.8 839.3 662.3 832.8 671 824.2 677.5 813.3 675.3 807.9 671Z" fill="#fff8c1"/>
<path d="M698.5 651.5 711.5 645 724.5 645 726.7 653.7 722.3 666.7 731 675.3 737.5 679.7 735.3 688.3 726.7 694.8 722.3 688.3 711.5 684 705 681.8 696.3 675.3Z" fill="#fff8c1"/>
<path d="M725.6 634.2 735.3 632 741.8 640.7 744 653.7 741.8 666.7 731 675.3 722.3 666.7 726.7 653.7 724.5 645Z" fill="#fee89b"/>
<path d="M705 629.8 713.7 621.2 726.7 617.9 737.5 623.3 735.3 632 725.6 634.2 724.5 645 711.5 645 702.8 640.7Z" fill="#fece65"/>
<path d="M683.3 666.7 696.3 662.3 698.5 671 705 681.8 696.3 688.3 689.8 692.7 683.3 684Z" fill="#fece65"/>
<path d="M710.4 684 715.8 692.7 722.3 694.8 728.8 690.5 733.2 694.8 726.7 705.7 724.5 716.5 715.8 718.7 713.7 705.7 709.3 694.8Z" fill="#d9d9d9"/>
<path d="M726.7 727.3 735.3 718.7 741.8 731.7 737.5 740.3 726.7 738.2Z" fill="#d9d9d9"/>
<path d="M758.1 728.4 765.7 723 767.8 727.3 761.3 733.8Z" fill="#fead3a"/>
<path d="M765.7 710 774.3 708.9 778.7 714.3 772.2 718.7 766.8 716.5Z" fill="#fff8c1"/>
<path d="M744 593 757 588.7 770 593 774.3 606 767.8 614.7 757 612.5 748.3 606Z" fill="#fff8c1"/>
<path d="M850 566.7 845 580 850 586.7 856.7 603.3 861.7 616.7 873.3 618.3 878.3 623.3 890 621.7 895 628.3 925 600 930 560 900 545 876.7 545 863.3 558.3Z" fill="#fff8c1"/>
<path d="M882 592 903 586 908 600 895 614 882 608Z" fill="#ffffe5"/>
<path d="M847.7 583.8 857.1 581.7 868.5 584.8 869.6 592.1 861.2 597.3 857.1 603.5 852.9 598.3 848.8 590Z" fill="#fece65"/>
<path d="M950 149.5 958.8 148 960.5 153.8 951.2 155Z" fill="#fee89b"/>
<path d="M796.7 577.5 810.2 573.3 821.7 574.4 827.9 578.5 825.8 585.8 813.3 590 800.8 587.9Z" fill="#fee89b"/>
</g>
<g clip-path="url(#cn)"><path d="M145 478.8 160 477.5 163.8 467.5 170 458.8 182.5 458.8 192.5 461.2 200 458.8 207.5 453 215 452.5 220 457.5 235 458.8 247.5 453.8 257.5 451.2 265 450 275 443.8 290 440 305 437.5 317.5 437 327.5 441.2 335 445M335 445 336.7 458.3 335 468.3 340 475 337.3 486.7 346.7 496.7 360 503.3 376.7 508.3 390 510 406.7 516.7 423.3 515 436.7 520 443.3 530 453.3 535 463.3 533.3 470 528.3 478.3 520M335 445 361.7 443.3 358.3 428.3 366.7 423.3 355 413.3 353.3 403.3 346.7 396.7 386.7 383.3 391.7 373.3 396.7 351.7 421.7 335 433.3 330 450 323.3 456.7 307.3M457.5 307.5 472.5 307.5 478.8 322.5 483.8 331.2 480 335 486.2 342.5 493.8 352.5 500 348.8 515 345 525 346.2 527 351.2 525 358.8 517.5 365 512.5 367.5 520 368.8 530 375 537.5 382.5 547.5 392.5 552.5 396.2 560 387.5 566.2 380 577.5 382.5 590 376.2 596.2 376.2 597.5 385 587.5 395 583.8 405 592.5 412.5 602.5 417.5 615 412.5 627.5 408.8 630 395 631.2 382.5 640 378.8M386.2 383.8 397.5 381.2 400 385 410 387.5 422.5 390 425 396.2 440 396.2 450 398.8 456.2 401.2 467.5 392.5 470 382.5 480 381.2 490 387.5 502.5 385 515 391.2 525 396.2 537.5 400 547.5 405 560 410 568.8 422.5 571.2 435 576.2 443.8 585 447.5 591.2 457.5 588.8 466.2 593.8 472.5 592.5 480M478.3 520 476.2 507.5 480 497.5 476.2 490 478.8 486.2M723.8 373.8 732.5 370 740 365 747.5 359.5 755 358.8 772.5 353.8 777.5 352.5 782.5 357.5 781.2 377.5 775 382.5 767.5 390 766.2 397.5 772.5 405 775 415 771.2 425 766.2 430 768.8 440 767.5 450 762.5 456.2 750 462.5 740 463.8 730 467.5 720 471.2 707.5 473.8 708.8 465 711.2 455 710 440 710 427.5 715 416.2 712.5 405 715 397.5 720 390 723.8 382.5 723.8 373.8M635 380 642.5 377.5 647.5 382.5 646.2 390 642.5 397.5 646.2 402.5 658.8 408.8 652.5 416.2 655 422.5 640 425 637.5 435 646.2 442.5 647.5 452.5 640 455 636.2 461.2 627.5 455 620 450 618.8 442.5 625 440 622.5 432.5 615 425 607.5 418.8 601.2 416.2 610 413.8 622.5 411.2 627.5 402.5 628.8 390 635 380M723.8 373.8 717.5 376.2 707.5 380 700 382.5 692.5 390 687.5 395 683.8 403.8 680 405 677.5 411.2 667.5 410 660 408.8 658.8 408.8M844.2 400 841.7 400 833.3 406.7 823.3 409.2 811.7 417.5 806.7 425 799.2 435 797.5 442.5 799.2 449.2 811.7 444.2 801.7 451.7 795 458.3 789.2 465 795 468.3 800 473.3 813.3 475 818.3 469.2 826.7 470 833.3 476.7 843.3 475 850 478.3 860 466.7 868.3 465M770 439.2 781.7 441.7 791.7 443.3 797.5 442.5M800.8 365 806.7 359.2 805.8 353.3 813.3 349.2 820.8 343.3 826.7 349.2 835.8 350.8 832.5 355.8 834.2 361.7 830.8 370 823.3 373.3 815.8 375 806.7 372.5 801.7 370 800.8 365M830.8 370 833.3 363.3 840 361.7 840 375 844.2 381.7 840 391.7 833.3 393.3 823.3 390 825 381.7 823.3 373.3M711.2 440 707.1 460.8 708.1 474.4 713.3 485.8 719.6 498.3 723.8 506.7 734.2 515 746.7 520.2 759.2 519.2 769.6 520.2 771.7 529.6 784.2 536.9 796.7 539 799.8 534.8 807.1 531.7 808.1 523.3 805 517.1 796.7 515 790.4 506.7 798.8 500.4 800.8 492.1 804 486.9 813.3 490 821.7 481.7 815.4 475.4 798.8 472.3 789.4 465 796.7 456.7 802.9 450.4 811.2 444.2M796.7 539 805 545.2 810.2 548.3 811.2 560.8 810.2 572.3 821.7 571.2 825.8 568.1M712.3 568.1 725.8 569.2 742.5 573.3 750.8 575.4 757.1 577.5 765.4 573.3 771.7 583.8 784.2 580.6 796.7 575.4 810.2 572.3M770 580 774.3 588.7 778.7 597.3 770 612.5 767.8 623.3 772.2 636.3 776.5 647.2 772.2 662.3M772.2 662.3 783 663.4 787.3 666.7 780.8 677.5 791.7 678.6 800.3 676.4 806.8 675.3M806.8 675.3 811.2 658 819.8 642.8 819.8 632 830.7 619 839.3 610.3 854.5 604.9M806.8 675.3 819.8 675.3 826.3 684 828.5 697 831.8 699.2M854.5 604.9 861 610.3 863.2 619 874 616.8 880.5 621.2 889.2 623.3 900 611.4M772.2 662.3 761.3 661.3 754.8 666.7 752.7 671 748.3 666.7 741.8 668.8 738.6 675.3 739.7 684 735.3 692.7 726.7 701.3 726.7 710 720.2 718.7 713.7 723 711.5 731.7 700.7 740.3 698.5 744.7M738.6 675.3 731 677.5 726.7 671 720.2 668.8 724.5 660.2 728.8 653.7 724.5 645 711.5 645 702.8 649.3 698.5 651.5M698.5 651.5 692 653.7 683.3 660.2 672.5 662.3 661.7 666.7 650.8 660.2 640 666.7M989.3 140 985.3 146.7 978.7 160 973.3 176 965.3 184 961.3 198.7 957.3 190.7 925.3 213.3 933.3 222.7 946.7 222.7 945.3 226.7 936 229.3 936 234.7M936 234.7 952 236 954.7 248 965.3 253.3 984 253.3 997.3 257.3 1008 264 1010.7 270.7 1021.3 280 1032 273.3 1042.7 290.7 1061.3 284 1069.3 289.3 1084 293.3M936 234.7 930.7 240 914.7 244 917.3 261.3 922.7 276 938.7 273.3 944 286.7 949.3 294.7M949.3 294.7 960 304 968 301.3 976 317.3 978.7 325.3 985.3 341.3M949.3 294.7 933.3 304 917.3 310.7 901.3 317.3 893.3 318.7 882.7 322.7 872 317.3 869.3 330.7 861.3 344 874.7 349.3 880 362.7M703.8 540 693.8 532.5 680 527.5 675 532.5 670 540 662.5 547.5 655 555 650 560 642.5 565 635 562.5 625 560 622.5 570 620 577.5 625 585 635 590 640 597.5 650 592.5 657.5 586.2 665 585 668.8 590M505 587.5 513.8 593.8 517.5 597.5 525 610 531.2 612.5 537.5 620 542.5 630 547.5 640 555 647.5 560 645 570 642.5 576.2 635 575 620 585 610 585 602.5 593.8 596.2 600 600 601.2 610 610 611.2 616.2 608.8 617.5 615 610 623.8 600 622.5 590 627.5 592.5 635 600 635M817.5 469.2 830 475.4 825.8 481.7 838.3 485.8 846.7 498.3 852.9 508.8 863.3 510.8 867.5 515 857.1 519.2 854 527.5 861.2 537.9 867.5 542.1 875.8 546.2M875.8 546.2 867.5 556.7 863.3 562.9 861.2 573.3 848.8 581.7 849.8 585.8M875.8 546.2 888.3 548.3 898.8 544.2 902.9 552.5 909.2 556.7M850 586.7 856.7 603.3 861.7 616.7 873.3 618.3 878.3 623.3 890 621.7 895 628.3M478.8 486.2 476.2 495 478.8 502.5 476.2 512.5 476.2 517.5 488.8 518.8 493.8 530 500 538.8 497.5 545 503.8 552.5 506.2 572.5 505 587.5 497.5 590 497.5 603 490 603.8M640 425 655 422.5 660 425 667.5 430 675 435 680 442.5 677.5 452.5 680 460 675 465 665 463.8 660 467.5 650 466.2 640 470 636.2 461.2M772.5 330 775 321.2 787.5 320 790 330 800 327.5 812.5 323.8 825 320 827.5 313.8 840 311.2 847.5 317.5 852.5 330 862.5 337.5 870 330 872.5 317.5M668.8 560 675 558.8 676.2 567.5 680 573.8 683.8 580 688.8 583.8 690 590 688.8 602.5 690 610 688.8 618.8 693.8 627.5 692.5 635 691.2 646.2M706.2 541.2 711.2 555 710 565 712.5 572.5 707.5 575 700 572.5 692.5 577.5 688.8 583.8M668.8 590 672.5 597.5 680 602.5 687.5 605 690 610M688.8 618.8 682.5 621.2 675 620 668.8 623.8 662.5 622.5M712.5 572.5 720 566.2 727.5 565 735 567.5 742.5 572.5" fill="none" stroke="#555" stroke-width="1" stroke-linejoin="round"/></g>
<path d="M286.7 178.3 303.3 177.3 305.7 185 320 196.7 335 200.7 350 205 353.3 215 361.7 225 360 241.7 355 253.3 360 258.3 380 261 400 262.3 416.7 268.3 440 278.3 446.7 295 456.7 307.3 473.3 307.3 503.3 311.7 530 309.3 553.3 313.3 563.3 320 590 326.7 603.3 326 608.3 331.7 616.7 328.3 640 318.3 666.7 315 696.7 313.3 710 306.2 725 295 737.5 287.5 727.5 275 731.2 266.2 738.8 260 762.5 267.5 782.5 255 807.5 250 822.5 236.2 837.5 230 860 227.5 880 228.8 872.5 216.2 860 205 850 200 835 207.5 825 202.5 810 205 801.2 198.8 806.2 191.2 822.5 163.8 842.5 170 855 162.5 870 158.8 867.5 151.2 880 130 895 115 892.5 107.5 882.5 105 897.5 93.8 917.5 90 940 87.5 955 88.8 972.5 95 990 102.5 998.8 117.5 1006.2 132.5 1013.8 147.5 1017.5 160 1025 167.5 1040 168.8 1052.5 173.8 1065 181.2 1072.5 183.8 1073.8 193.8 1078.8 205 1095 207.5 1107.5 205 1120 197.5 1137.5 193.8 1152.5 192.5 1143.8 200 1147.5 207.5 1137.5 212.5 1133.8 227.5 1130 240 1122.5 250 1116.2 261.2 1105 258.8 1095 256.2 1082.5 265 1083.8 280 1084.5 295 1075 303.8 1072.5 315 1062.5 303.8 1057.5 310 1056.2 316.2 1042.5 322.5 1030 326.2 1031.2 335 1015 332.5 1005 328.8 996.2 337.5 985 346.2 972.5 353.8 958.8 363.8 947.5 370 935 372.5 925 378.8 912.5 383.8 902.5 388.8 902.5 386.2 911.2 380 906.2 375 910 367.5 920 360 922.5 352.5 915 347.5 902.5 347.5 890 357.5 880 365 870 372.5 862.5 378.8 850 385 842.5 391.2 840 396.2 846.2 400 857.5 402.5 866.2 408.8 862.5 416.2 870 422.5 880 418.8 888.8 411.2 897.5 408.8 910 416.2 922.5 416.2 930 417.5 928.8 426.2 920 428.8 910 430 900 436.2 890 443.8 882.5 450 875 457.5 868.8 466.2 872.5 472.5 885 477.5 890 487.5 895 497.5 900 510 906.2 520 913.8 527.5 917.5 537.5 918.5 545 919 554 908.7 552.8 900.5 557.5 908.7 561 915.7 566.8 918 572.7 916.8 584.3 913.3 593.7 909.8 603 901.7 610 897 619.3 888.8 628.7 883 635.7 877.2 647.3 876 656.7 869 666 862 675.3 850 682.5 840 692.5 830 702.5 817.5 710 802.5 717.5 787.5 718.8 775 725 767.5 727.5 752.5 738.8 740 740 735 741.2 720 745 711.2 748.8 707.5 755 713 762.5 710 767.5 701.2 768 698.8 761.2 696.2 752.5 697.5 743.8 686.2 743.8 685 740 670 742.5 657.5 738.8 647.5 733.8 641.2 723.8 643.8 715 635 713.8 625 710 620 706.2 610 710 602.5 717.5 596.2 713.8 590 720 582.5 716.2 575 722.5 566.2 717.5 557.5 722.5 550 727.5 553.8 740 555 748.8 545 747.5 541.2 736.2 532.5 743.8 523.8 738.8 521.2 731.2 507.5 728.8 510 722.5 513.8 712.5 503.8 707.5 503.8 700 500 690 487.5 688.8 478.8 693.8 482.5 685 478.8 677.5 482.5 670 487.5 662.5 496.2 655 501.2 650 500 637.5 500 625 497.5 615 491.2 611.2 490 603.8 480 600 475 606.7 470 613.3 460 608.3 450 605 440 608.3 428.3 615 415 621.7 410 630 396.7 631.7 381.7 631.7 380 621.7 373.3 618.3 368.3 610 363.3 611.7 353.3 608.3 340 606.7 331.7 613.3 327.3 624 323.3 621.7 323.3 613.3 318.3 608.3 306.7 610 293.3 611.7 281.7 608.3 271.7 610 266.7 605 256.7 601.7 255 596.7 241.7 591.7 236.7 583.3 226.7 583.3 218.3 576.7 210 570 200 563.3 190 560 185 566.7 176.7 563.3 165 555 156.7 548.3 146.7 546.7 143.3 540 138.3 530 135 518.3 140 515 143.3 518.3 150 516.7 150 506.7 141.7 496.7 140 486.7 145 480 131.7 471.7 130 458.3 125 456.7 110 453.3 101.7 448.3 93.3 445 90 433.3 80 426.7 66.7 425 65 421.7 75 416.7 70.7 410 71.7 401.7 66.7 393.3 51.7 391.7 53.3 383.3 47.7 377.3 51.7 371.7 55 363.3 70 356.7 83.3 351.7 86.7 356.7 101.7 351.7 110 343.3 125 340.7 133.3 336.7 150 328.3 165.7 321.7 166.7 310 171.7 305 177.3 296.7 171.7 283.3 170 271.7 162.3 264.3 180 259.3 195 256 209.3 257.3 204 250 210 238.3 213.3 228.3 220 216.7 233.3 220 255 221.7 265 218.3 263.3 203.3 266.7 193.3 283.3 186.7Z" fill="none" stroke="#555" stroke-width="1" stroke-linejoin="round"/>
<path d="M688.8 775 700 772.5 712.5 770.5 721.2 773.8 721.2 781.2 715 792.5 710 802.5 697.5 810 686.2 807.5 678 803.8 677.5 787.5 681.2 780Z" fill="#ffffe5" stroke="#555" stroke-width="0.9" stroke-linejoin="round"/>
<path d="M910 665 917.5 670 913.8 685 908.8 705 902.5 720 898.8 726.2 897.5 733.8 894.5 732.5 893 725 886.2 718.8 882.5 707.5 885 695 892.5 682.5 900 672.5Z" fill="#ffffe5" stroke="#555" stroke-width="0.9" stroke-linejoin="round"/>
<path d="M785.3 946.7h1.6v1.6h-1.6zM822.9 946.7h1.6v1.6h-1.6zM786.6 954.4h1.6v1.6h-1.6zM791.2 954.4h1.6v1.6h-1.6zM774.7 958.1h1.6v1.6h-1.6zM783.0 959.5h1.6v1.6h-1.6zM789.7 958.6h1.6v1.6h-1.6zM831.5 955.5h1.6v1.6h-1.6zM839.8 955.9h1.6v1.6h-1.6zM841.6 960.5h1.6v1.6h-1.6zM831.5 962.3h1.6v1.6h-1.6zM805.0 966.9h1.6v1.6h-1.6zM824.2 966.5h1.6v1.6h-1.6zM818.7 969.1h1.6v1.6h-1.6zM832.5 969.6h1.6v1.6h-1.6zM765.5 971.5h1.6v1.6h-1.6zM778.4 970.9h1.6v1.6h-1.6zM786.1 969.1h1.6v1.6h-1.6zM797.1 972.4h1.6v1.6h-1.6zM809.9 974.2h1.6v1.6h-1.6zM833.4 975.1h1.6v1.6h-1.6zM770.5 975.1h1.6v1.6h-1.6zM785.3 977.9h1.6v1.6h-1.6zM800.7 978.8h1.6v1.6h-1.6zM786.1 982.5h1.6v1.6h-1.6zM807.3 982.5h1.6v1.6h-1.6zM818.7 981.5h1.6v1.6h-1.6zM811.7 985.2h1.6v1.6h-1.6zM747.2 986.1h1.6v1.6h-1.6zM776.5 988.9h1.6v1.6h-1.6zM799.5 988.9h1.6v1.6h-1.6zM808.6 991.1h1.6v1.6h-1.6zM767.4 992.9h1.6v1.6h-1.6zM818.7 994.0h1.6v1.6h-1.6zM822.4 996.2h1.6v1.6h-1.6zM766.5 997.1h1.6v1.6h-1.6zM741.7 999.3h1.6v1.6h-1.6zM748.1 999.9h1.6v1.6h-1.6zM752.7 999.3h1.6v1.6h-1.6zM772.5 999.9h1.6v1.6h-1.6zM776.5 1001.7h1.6v1.6h-1.6zM784.8 999.3h1.6v1.6h-1.6zM814.7 999.3h1.6v1.6h-1.6zM731.6 1004.1h1.6v1.6h-1.6zM728.0 1006.3h1.6v1.6h-1.6zM795.8 1007.2h1.6v1.6h-1.6zM801.3 1007.2h1.6v1.6h-1.6zM795.8 1010.0h1.6v1.6h-1.6zM754.5 1008.7h1.6v1.6h-1.6zM761.0 1012.7h1.6v1.6h-1.6zM760.0 1015.5h1.6v1.6h-1.6zM711.5 1014.5h1.6v1.6h-1.6zM701.7 1019.7h1.6v1.6h-1.6zM710.5 1021.0h1.6v1.6h-1.6zM737.1 1016.0h1.6v1.6h-1.6zM731.6 1019.7h1.6v1.6h-1.6zM732.5 1023.7h1.6v1.6h-1.6zM729.8 1026.5h1.6v1.6h-1.6zM772.5 1018.2h1.6v1.6h-1.6zM754.2 1020.4h1.6v1.6h-1.6zM785.7 1014.5h1.6v1.6h-1.6zM787.5 1016.4h1.6v1.6h-1.6zM786.1 1026.5h1.6v1.6h-1.6zM790.8 1027.4h1.6v1.6h-1.6zM770.1 1030.1h1.6v1.6h-1.6zM788.5 1032.9h1.6v1.6h-1.6zM765.9 1038.9h1.6v1.6h-1.6zM759.7 1052.1h1.6v1.6h-1.6zM747.8 1059.5h1.6v1.6h-1.6zM743.9 1065.5h1.6v1.6h-1.6zM746.8 1065.9h1.6v1.6h-1.6zM749.0 1071.0h1.6v1.6h-1.6zM748.1 1076.5h1.6v1.6h-1.6zM751.8 1077.2h1.6v1.6h-1.6zM754.2 1078.3h1.6v1.6h-1.6zM738.0 1102.0h1.6v1.6h-1.6zM741.7 1100.7h1.6v1.6h-1.6zM728.5 832.5h1.6v1.6h-1.6zM742.5 835.2h1.6v1.6h-1.6zM729.9 844.2h1.6v1.6h-1.6zM732.5 848.5h1.6v1.6h-1.6zM737.5 845.9h1.6v1.6h-1.6zM745.9 845.9h1.6v1.6h-1.6zM748.5 848.5h1.6v1.6h-1.6zM730.9 850.9h1.6v1.6h-1.6zM745.9 852.5h1.6v1.6h-1.6zM741.9 859.9h1.6v1.6h-1.6zM772.5 855.9h1.6v1.6h-1.6zM777.5 854.2h1.6v1.6h-1.6zM781.9 852.5h1.6v1.6h-1.6zM787.5 850.9h1.6v1.6h-1.6zM789.9 854.2h1.6v1.6h-1.6zM782.5 862.5h1.6v1.6h-1.6zM770.9 864.2h1.6v1.6h-1.6zM821.9 846.9h1.6v1.6h-1.6zM798.5 895.9h1.6v1.6h-1.6zM840.9 870.9h1.6v1.6h-1.6zM809.2 751.5h1.6v1.6h-1.6zM824.9 758.2h1.6v1.6h-1.6zM755.2 781.9h1.6v1.6h-1.6zM770.9 788.5h1.6v1.6h-1.6zM943.0 654.2h1.6v1.6h-1.6zM963.0 651.2h1.6v1.6h-1.6zM919.2 658.7h1.6v1.6h-1.6zM873.0 699.2h1.6v1.6h-1.6zM871.2 705.2h1.6v1.6h-1.6zM875.2 699.2h1.6v1.6h-1.6zM876.2 636.2h1.6v1.6h-1.6zM878.2 639.2h1.6v1.6h-1.6zM873.2 633.2h1.6v1.6h-1.6zM871.2 661.2h1.6v1.6h-1.6zM873.2 658.2h1.6v1.6h-1.6zM868.2 663.2h1.6v1.6h-1.6zM865.2 667.2h1.6v1.6h-1.6zM850.2 681.2h1.6v1.6h-1.6zM847.2 683.2h1.6v1.6h-1.6zM852.2 678.2h1.6v1.6h-1.6zM778.2 721.2h1.6v1.6h-1.6zM781.2 719.2h1.6v1.6h-1.6zM776.2 723.2h1.6v1.6h-1.6zM785.2 718.2h1.6v1.6h-1.6zM750.2 739.2h1.6v1.6h-1.6zM753.2 737.2h1.6v1.6h-1.6zM707.2 751.2h1.6v1.6h-1.6zM705.2 749.2h1.6v1.6h-1.6zM794.2 717.2h1.6v1.6h-1.6zM898.2 617.2h1.6v1.6h-1.6zM896.2 621.2h1.6v1.6h-1.6zM904.2 609.2h1.6v1.6h-1.6zM908.2 602.2h1.6v1.6h-1.6zM920.2 596.2h1.6v1.6h-1.6zM916.2 589.2h1.6v1.6h-1.6zM922.2 559.2h1.6v1.6h-1.6zM926.2 561.2h1.6v1.6h-1.6zM930.2 555.2h1.6v1.6h-1.6zM925.2 552.2h1.6v1.6h-1.6zM905.2 389.2h1.6v1.6h-1.6zM908.2 387.2h1.6v1.6h-1.6zM912.2 385.2h1.6v1.6h-1.6zM887.2 402.2h1.6v1.6h-1.6zM891.2 398.2h1.6v1.6h-1.6z" fill="#555"/>
<path d="M915.0 738.3L902.7 756.0" stroke="#555" stroke-width="1.0" fill="none"/>
<path d="M882.7 791.7L872.3 814.3" stroke="#555" stroke-width="1.0" fill="none"/>
<path d="M865.0 852.7L865.0 875.7" stroke="#555" stroke-width="1.6" fill="none"/>
<path d="M863.5 936.5L855.3 959.4" stroke="#555" stroke-width="1.0" fill="none"/>
<path d="M814.5 1018.5L801.2 1035.5" stroke="#555" stroke-width="1.0" fill="none"/>
<path d="M753.5 1105.5L734.3 1112.1" stroke="#555" stroke-width="1.2" fill="none"/>
<path d="M932.0 679.5L927.0 702.5" stroke="#555" stroke-width="1.8" fill="none"/>
<path d="M748.0 1062.0L750.2 1072.2" stroke="#555" stroke-width="1.2" fill="none"/>
<path d="M670.1 1037.3Q668.5 1049 671.9 1059.3" stroke="#555" stroke-width="1.3" fill="none"/>
<path d="M708 931.4Q708.5 943 703.5 952.6" stroke="#555" stroke-width="1.3" fill="none"/>
<path d="M689.3 850Q697 860 699.3 872.7" stroke="#555" stroke-width="1" fill="none"/>
<path d="M692.6 1031.5L697.6 1027.8L701.3 1028.2" stroke="#555" stroke-width="1" fill="none"/>
<path d="M770.9 1026.0 777.3 1020.8 782.5 1018.6 784.7 1019.9 780.1 1025.4 774.6 1027.8 Z" fill="#f4f4d4" stroke="#555" stroke-width="0.7"/>
<path d="M919 566L925 565L927 572L922 576L918 572Z" fill="#fece65" stroke="#555" stroke-width="1.2"/>
<g shape-rendering="crispEdges"><rect x="24" y="24" width="1152" height="1"/><rect x="24" y="24" width="1" height="1152"/><rect x="1174" y="24" width="2" height="1152"/><rect x="24" y="1174" width="1152" height="2"/></g>
<text x="49" y="106" font-size="51" class="c">父系：</text>
<text x="218" y="107" font-size="52.3" class="s t">C-K548 (</text>
<text x="429" y="106" font-size="50" class="c">含下游</text>
<text x="584" y="107" font-size="52.3" class="s t">)</text>
<text x="54" y="785" font-size="37" class="c">相对占比</text>
<rect x="58" y="805.00" width="33" height="33.85" fill="#ffffe5"/>
<text x="100" y="833.5" font-size="28.4" class="s l">0.18% - 1.16%</text>
<rect x="58" y="838.55" width="33" height="33.85" fill="#fff8c1"/>
<text x="100" y="867.0" font-size="28.4" class="s l">1.16% - 1.94%</text>
<rect x="58" y="872.10" width="33" height="33.85" fill="#fee89b"/>
<text x="100" y="900.6" font-size="28.4" class="s l">1.94% - 2.66%</text>
<rect x="58" y="905.65" width="33" height="33.85" fill="#fece65"/>
<text x="100" y="934.1" font-size="28.4" class="s l">2.66% - 3.45%</text>
<rect x="58" y="939.20" width="33" height="33.85" fill="#fead3a"/>
<text x="100" y="967.7" font-size="28.4" class="s l">3.45% - 4.62%</text>
<rect x="58" y="972.75" width="33" height="33.85" fill="#f6861f"/>
<text x="100" y="1001.2" font-size="28.4" class="s l">4.62% - 6.67%</text>
<rect x="58" y="1006.30" width="33" height="33.85" fill="#e1640e"/>
<text x="100" y="1034.8" font-size="28.4" class="s l">6.67% - 9.09%</text>
<rect x="58" y="1039.85" width="33" height="33.85" fill="#c04602"/>
<text x="100" y="1068.3" font-size="28.4" class="s l">9.09% - 11.11%</text>
<rect x="58" y="1073.40" width="33" height="33.85" fill="#933204"/>
<text x="100" y="1101.9" font-size="28.4" class="s l">11.11% - 13.04%</text>
<rect x="58" y="1106.95" width="33" height="33.55" fill="#662506"/>
<text x="100" y="1135.5" font-size="28.4" class="s l">13.04% - 15.41%</text>
<text x="945" y="1136" font-size="27.5" class="c">作者</text>
<text x="1001" y="1137" font-size="28.4" class="s">:O1a</text>
<text x="1062" y="1136" font-size="28" class="c">溯源群</text>
</svg>
</body></html>
